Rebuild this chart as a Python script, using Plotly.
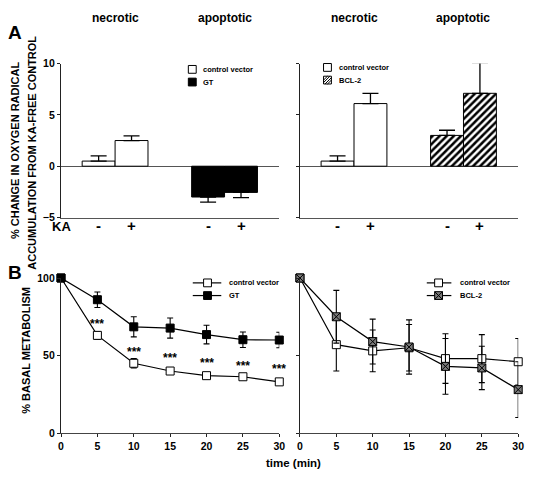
import plotly.graph_objects as go

# ---------------- data ----------------
ka_labels = ["-", "+"]
groups = ["necrotic", "apoptotic"]

# Panel A (left): control vector (necrotic group), GT (apoptotic group)
a_left_cv = [0.5, 2.5]
a_left_cv_err = [0.5, 0.45]
a_left_gt = [-3.0, -2.55]
a_left_gt_err = [0.5, 0.5]

# Panel A (right): control vector (necrotic group), BCL-2 (apoptotic group)
a_right_cv = [0.5, 6.1]
a_right_cv_err = [0.5, 1.0]
a_right_bcl = [3.0, 7.1]
a_right_bcl_err = [0.5, 3.0]

# Panel B
time_min = [0, 5, 10, 15, 20, 25, 30]
b_left_cv = [100, 63, 45, 40, 37, 36.3, 33]
b_left_cv_err = [0, 2.5, 3, 1.5, 1.5, 1.5, 1.5]
b_left_gt = [100, 86, 68.5, 67.7, 63.5, 60.2, 60]
b_left_gt_err = [0, 5, 6.5, 6.5, 6, 5, 5]
star_time = [5, 10, 15, 20, 25, 30]
star_level = [73, 55, 51, 48, 46, 44]

b_right_cv = [100, 57, 53, 55, 48, 48, 46]
b_right_cv_err = [0, 17, 13.5, 15, 16, 15.5, 15]
b_right_bcl = [100, 75, 59, 55.5, 43, 42, 28]
b_right_bcl_err = [0, 17, 14.5, 17.5, 18, 14, 18]

# ---------------- layout helpers ----------------
W, H = 537, 479
FONT = "Liberation Sans, Arial, sans-serif"


def px(x):
    return x / W


def py(y):
    return 1 - y / H


BAR_W = 0.98
FIRST = 1.12
STEP = 0.98
GROUP_SHIFT = 3.26


def bar_pos(g):
    return [FIRST + g * GROUP_SHIFT + i * STEP for i in range(len(ka_labels))]


def err_dirs(vals, errs):
    plus = [e if v >= 0 else 0 for v, e in zip(vals, errs)]
    minus = [e if v < 0 else 0 for v, e in zip(vals, errs)]
    return plus, minus


def bar_trace(xs, vals, errs, name, fill, axis, pattern=None):
    plus, minus = err_dirs(vals, errs)
    marker = dict(color=fill, line=dict(color="black", width=1))
    if pattern:
        marker["pattern"] = dict(shape="/", fgcolor="black", bgcolor="white",
                                 size=5, solidity=0.5, fgopacity=1, fillmode="overlay")
    return go.Bar(
        x=xs, y=vals, width=BAR_W, name=name, marker=marker,
        xaxis="x" + axis, yaxis="y" + axis, showlegend=False,
        error_y=dict(type="data", symmetric=False, array=plus, arrayminus=minus,
                     color="black", thickness=1.3, width=8),
    )


def line_trace(vals, errs, name, symbol, fill, axis):
    return go.Scatter(
        x=time_min, y=vals, name=name, mode="lines+markers",
        xaxis="x" + axis, yaxis="y" + axis, showlegend=False, cliponaxis=False,
        line=dict(color="black", width=1.2),
        marker=dict(symbol=symbol, size=8, color=fill,
                    line=dict(color="black", width=1)),
        error_y=dict(type="data", array=errs, color="black", thickness=1.1, width=3),
    )


fig = go.Figure()
pos_nec, pos_apo = bar_pos(0), bar_pos(1)
fig.add_trace(bar_trace(pos_nec, a_left_cv, a_left_cv_err, "control vector", "white", ""))
fig.add_trace(bar_trace(pos_apo, a_left_gt, a_left_gt_err, "GT", "black", ""))
fig.add_trace(bar_trace(pos_nec, a_right_cv, a_right_cv_err, "control vector", "white", "2"))
fig.add_trace(bar_trace(pos_apo, a_right_bcl, a_right_bcl_err, "BCL-2", "white", "2", pattern=True))

fig.add_trace(line_trace(b_left_cv, b_left_cv_err, "control vector", "square", "white", "3"))
fig.add_trace(line_trace(b_left_gt, b_left_gt_err, "GT", "square", "black", "3"))
fig.add_trace(line_trace(b_right_cv, b_right_cv_err, "control vector", "square", "white", "4"))
fig.add_trace(line_trace(b_right_bcl, b_right_bcl_err, "BCL-2", "square-x", "#7a7a7a", "4"))

AXC = "#222"
tickfont = dict(family=FONT, size=10.5, color="black", weight="bold")
xa_dom_l = [px(59), px(281)]
xa_dom_r = [px(302), px(524)]
ya_dom = [py(217), py(59)]
yb_dom = [py(438), py(279)]


def xaxis_a(dom, anchor):
    return dict(domain=dom, anchor=anchor, range=[0, 6.5], showline=True, linecolor="#555",
                linewidth=1.2, showticklabels=False, ticks="",
                showgrid=False, zeroline=False, fixedrange=True)


def yaxis_a(dom, anchor, labels):
    return dict(domain=dom, anchor=anchor, range=[-5, 10], tickvals=[-5, 0, 5, 10],
                showticklabels=labels, ticks="outside", ticklen=3, tickcolor=AXC,
                showline=True, linecolor=AXC, linewidth=1.2, showgrid=False,
                zeroline=True, zerolinecolor="#555", zerolinewidth=1.2,
                tickfont=tickfont)


def xaxis_b(dom, anchor):
    return dict(domain=dom, anchor=anchor, range=[0, 30], tickvals=time_min,
                ticks="outside", ticklen=3, tickcolor=AXC, showline=True,
                linecolor="#444", linewidth=1.2, showgrid=False, zeroline=False,
                tickfont=tickfont)


def yaxis_b(dom, anchor, labels):
    return dict(domain=dom, anchor=anchor, range=[0, 100], tickvals=[0, 50, 100],
                showticklabels=labels, ticks="outside", ticklen=3, tickcolor=AXC,
                showline=True, linecolor=AXC, linewidth=1.2, showgrid=False,
                zeroline=False, tickfont=tickfont)


fig.update_layout(
    width=W, height=H, margin=dict(l=0, r=0, t=0, b=0), autosize=False,
    paper_bgcolor="white", plot_bgcolor="white",
    font=dict(family=FONT, color="black"),
    barmode="overlay",
    xaxis=xaxis_a(xa_dom_l, "y"), yaxis=yaxis_a(ya_dom, "x", True),
    xaxis2=xaxis_a(xa_dom_r, "y2"), yaxis2=yaxis_a(ya_dom, "x2", False),
    xaxis3=xaxis_b(xa_dom_l, "y3"), yaxis3=yaxis_b(yb_dom, "x3", True),
    xaxis4=xaxis_b(xa_dom_r, "y4"), yaxis4=yaxis_b(yb_dom, "x4", False),
)

ann = []


def text(x, y, s, size, xref="paper", yref="paper", xanchor="center", angle=0, yshift=0):
    ann.append(dict(x=x, y=y, xref=xref, yref=yref, text=s, showarrow=False,
                    xanchor=xanchor, yanchor="middle", textangle=angle, yshift=yshift,
                    font=dict(family=FONT, size=size, color="black", weight="bold")))


# panel letters
text(px(12), py(27), "A", 19)
text(px(12), py(273), "B", 19)
# group titles and KA +/- labels
for ax in ["x", "x2"]:
    for g, name in enumerate(groups):
        p = bar_pos(g)
        text(sum(p) / len(p), py(12), name, 12, xref=ax)
        for xv, lab in zip(p, ka_labels):
            text(xv, py(225), lab, 15, xref=ax)
text(px(60), py(226), "KA", 13)
# axis titles
text(px(13), py(148), "% CHANGE IN OXYGEN RADICAL", 11, angle=-90)
text(px(30), py(150), "ACCUMULATION FROM KA-FREE CONTROL", 11, angle=-90)
text(px(24), py(353), "% BASAL METABOLISM", 11, angle=-90)
text(px(295), py(469), "time (min)", 11.5)
# significance stars
for t, lv in zip(star_time, star_level):
    text(t, lv, "***", 12, xref="x3", yref="y3", yshift=-4)

shapes = []


def sq(cx, cy, fill, half=4):
    shapes.append(dict(type="rect", xref="paper", yref="paper",
                       x0=px(cx - half), x1=px(cx + half), y0=py(cy + half), y1=py(cy - half),
                       fillcolor=fill, line=dict(color="black", width=1)))


def seg(x0, y0, x1, y1, w=1):
    shapes.append(dict(type="line", xref="paper", yref="paper",
                       x0=px(x0), x1=px(x1), y0=py(y0), y1=py(y1),
                       line=dict(color="black", width=w)))


# legend panel A left
sq(192.5, 65, "white")
text(px(201), py(65), "control vector", 7.5, xanchor="left")
sq(192.5, 78, "black")
text(px(201), py(78), "GT", 7.5, xanchor="left")
# legend panel A right
sq(330, 63, "white")
text(px(340), py(63), "control vector", 7.5, xanchor="left")
sq(330, 76, "white")
for d in (-4, -1.5, 1.5, 4):
    if d < 0:
        seg(326, 80 + d, 334 + d, 72)
    else:
        seg(326 + d, 80, 334, 72 + d)
text(px(340), py(76), "BCL-2", 7.5, xanchor="left")

# legend panel B left
for cy, fill, name in [(284, "white", "control vector"), (297, "black", "GT")]:
    seg(193, cy, 222, cy, 1.2)
    sq(208, cy, fill)
    text(px(228), py(cy), name, 7.5, xanchor="left")
# legend panel B right
for cy, fill, name in [(284, "white", "control vector"), (297, "#7a7a7a", "BCL-2")]:
    seg(431, cy, 456, cy, 1.2)
    sq(443, cy, fill)
    if fill != "white":
        seg(439, cy - 4, 447, cy + 4)
        seg(439, cy + 4, 447, cy - 4)
    text(px(463), py(cy), name, 7.5, xanchor="left")

fig.update_layout(annotations=ann, shapes=shapes)
fig.write_html("out.html",
               config={"responsive": False, "displayModeBar": False},
               post_script="document.body.style.margin='0';document.body.style.overflow='hidden';")
